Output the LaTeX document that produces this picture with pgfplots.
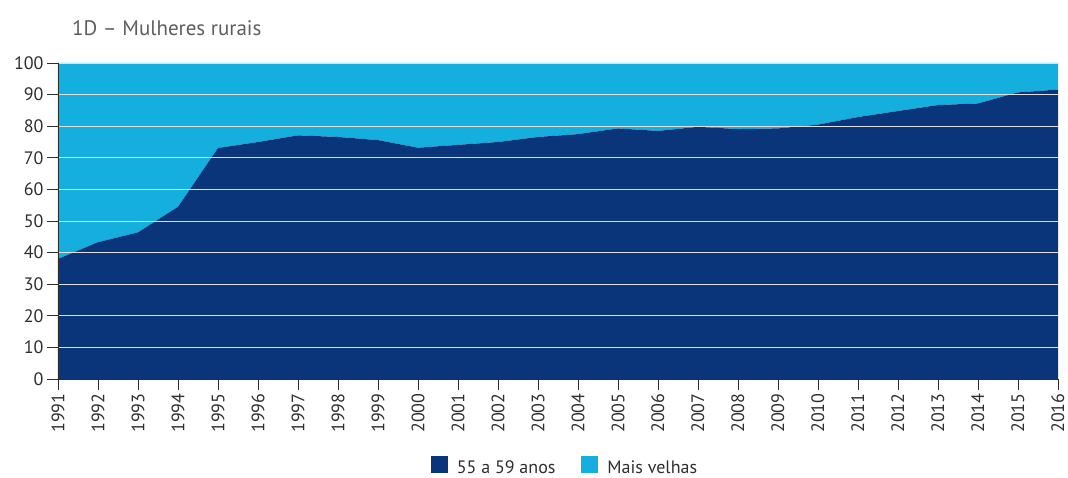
\documentclass[border=0pt]{standalone}
\usepackage{pgfplots}
\pgfplotsset{compat=1.18}
\usepackage{pgfplotstable}
\usepackage{fontspec}
\setmainfont{PT Sans}
\definecolor{darkb}{HTML}{0A357A}
\definecolor{lightb}{HTML}{14AFDF}
\definecolor{txt}{HTML}{2E2E2E}
\definecolor{ttl}{HTML}{5E5E5E}
\pgfplotstableread{
ano jovens velhas
1991 38.0 62.0
1992 43.3 56.7
1993 46.4 53.6
1994 54.5 45.5
1995 73.1 26.9
1996 75.0 25.0
1997 77.1 22.9
1998 76.6 23.4
1999 75.6 24.4
2000 73.2 26.8
2001 74.1 25.9
2002 75.0 25.0
2003 76.6 23.4
2004 77.5 22.5
2005 79.3 20.7
2006 78.5 21.5
2007 79.8 20.2
2008 79.1 20.9
2009 79.3 20.7
2010 80.5 19.5
2011 82.9 17.1
2012 84.8 15.2
2013 86.7 13.3
2014 87.2 12.8
2015 90.7 9.3
2016 91.6 8.4
}\dados
\begin{document}
\begin{tikzpicture}
\path[use as bounding box] (-58pt,-99pt) rectangle (1010pt,379pt);
\node[anchor=west, text=ttl, font=\fontsize{21}{24}\selectfont, inner sep=0pt] at (14pt,351pt) {1D -- Mulheres rurais};
\begin{axis}[
  at={(0pt,0pt)}, anchor=south west,
  scale only axis, width=1000pt, height=316pt,
  xmin=1991, xmax=2016, ymin=0, ymax=100,
  axis on top,
  stack plots=y,
  axis lines=left,
  axis line style={-, draw=txt, line width=0.8pt},
  xtick={1991,...,2016},
  ytick={0,10,...,100},
  tick align=outside,
  major tick length=11pt,
  tick style={draw=txt, line width=0.8pt},
  ymajorgrids,
  grid style={draw=white!75!gray, line width=0.9pt},
  /pgf/number format/assume math mode=true,
  /pgf/number format/1000 sep={},
  xticklabel style={rotate=90, anchor=east, font=\fontsize{18}{20}\selectfont, text=txt},
  yticklabel style={font=\fontsize{18}{20}\selectfont, text=txt},
  legend columns=2,
  legend style={at={(0.507,-0.278)}, anchor=center, draw=none, fill=none,
    font=\fontsize{18}{20}\selectfont, text=txt,
    /tikz/every even column/.append style={column sep=24pt}},
  legend image code/.code={\fill[#1] (0pt,-5pt) rectangle (17pt,12pt); \path (24pt,0pt);},
]
\addplot[draw=none, fill=darkb] table[x=ano, y=jovens] {\dados} \closedcycle;
\addlegendentry{55 a 59 anos}
\addplot[draw=none, fill=lightb] table[x=ano, y=velhas] {\dados} \closedcycle;
\addlegendentry{Mais velhas}
\end{axis}
\end{tikzpicture}
\end{document}
